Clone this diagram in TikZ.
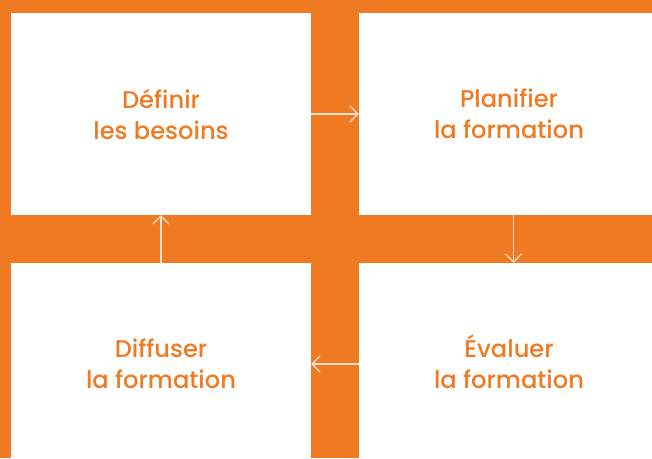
\documentclass[tikz,border=0pt]{standalone}
\usepackage{fontspec}
\setmainfont{Poppins}[UprightFont=* Medium]
\usepackage{tikz}
\usetikzlibrary{arrows.meta}
\definecolor{orangeBg}{RGB}{240,122,34}
\definecolor{arrowCol}{RGB}{252,226,206}

\begin{document}
\begin{tikzpicture}[x=1pt, y=-1pt,
    box/.style={fill=white, minimum width=300pt, minimum height=202pt,
      inner sep=0pt, text=orangeBg, align=center,
      font=\fontsize{24.2}{31}\selectfont},
    flow/.style={draw=arrowCol, line width=1.2pt,
      -{Straight Barb[length=8pt, width=16pt]}}]
    % background
    \fill[orangeBg] (0, 0) rectangle (652, 458);
    \clip (0, 0) rectangle (652, 458);

    % the four steps
    \node[box](besoins) at (161, 114){Définir\\les besoins};
    \node[box](planifier) at (509, 114){Planifier\\la formation};
    \node[box](evaluer) at (509, 364){\smash{É}valuer\\la formation};
    \node[box](diffuser) at (161, 364){Diffuser\\la formation};

    % the cycle
    \draw[flow] (besoins.east) -- (planifier.west);
    \draw[flow] ([xshift=4.5pt]planifier.south) -- ([xshift=4.5pt]evaluer.north);
    \draw[flow] (evaluer.west) -- (diffuser.east);
    \draw[flow] (diffuser.north) -- (besoins.south);
  \end{tikzpicture}
\end{document}
